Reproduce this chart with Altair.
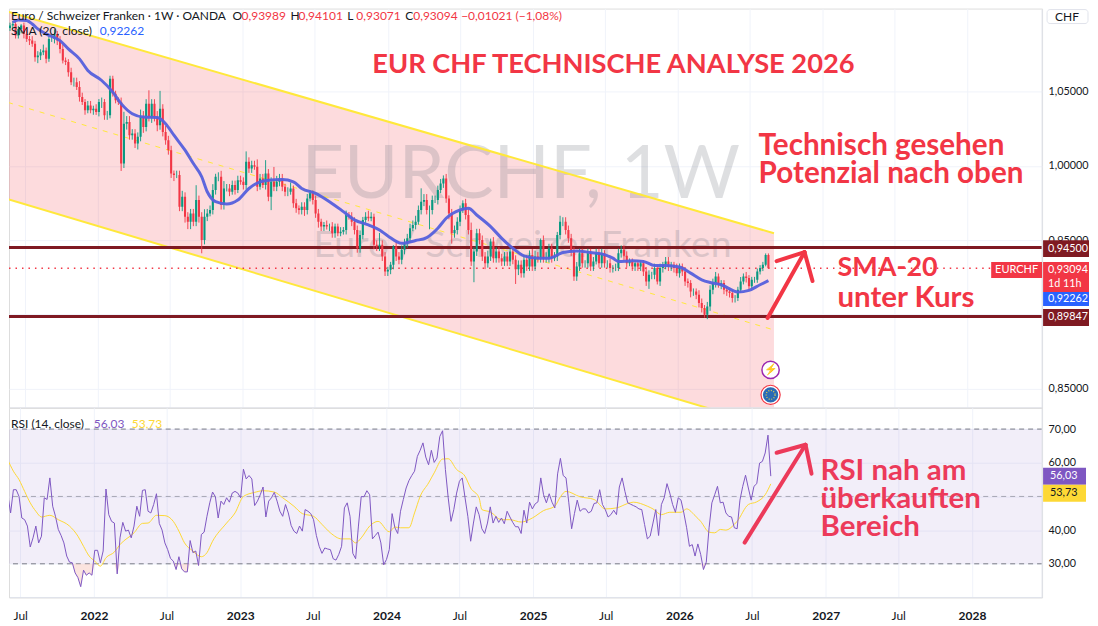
import altair as alt
import pandas as pd

# all weekly values, week 0 = 2021-05-24
first_open = 1.0930
close = [
    1.0946, 1.0957, 1.0879, 1.0924, 1.0946, 1.0890, 1.0856, 1.0845, 1.0823, 1.0733,
    1.0744, 1.0767, 1.0778, 1.0722, 1.0856, 1.0856, 1.0890, 1.0845, 1.0789, 1.0711,
    1.0700, 1.0632, 1.0565, 1.0565, 1.0532, 1.0464, 1.0431, 1.0375, 1.0408, 1.0375,
    1.0386, 1.0364, 1.0431, 1.0431, 1.0341, 1.0341, 1.0588, 1.0487, 1.0442, 1.0431,
    1.0016, 1.0285, 1.0296, 1.0207, 1.0218, 1.0151, 1.0196, 1.0330, 1.0263, 1.0420,
    1.0330, 1.0420, 1.0330, 1.0274, 1.0386, 1.0229, 1.0173, 1.0106, 0.9949, 0.9938,
    0.9938, 0.9725, 0.9792, 0.9658, 0.9624, 0.9680, 0.9624, 0.9770, 0.9658, 0.9501,
    0.9658, 0.9680, 0.9703, 0.9837, 0.9927, 0.9927, 0.9736, 0.9848, 0.9848, 0.9826,
    0.9871, 0.9837, 0.9904, 0.9893, 0.9871, 1.0028, 0.9983, 1.0005, 0.9994, 0.9860,
    0.9916, 0.9871, 0.9949, 0.9792, 0.9893, 0.9860, 0.9893, 0.9916, 0.9860, 0.9826,
    0.9826, 0.9848, 0.9748, 0.9714, 0.9703, 0.9725, 0.9703, 0.9781, 0.9815, 0.9770,
    0.9680, 0.9624, 0.9591, 0.9602, 0.9591, 0.9591, 0.9546, 0.9591, 0.9546, 0.9557,
    0.9568, 0.9669, 0.9658, 0.9624, 0.9568, 0.9445, 0.9535, 0.9636, 0.9658, 0.9647,
    0.9658, 0.9468, 0.9456, 0.9468, 0.9389, 0.9288, 0.9300, 0.9333, 0.9456, 0.9389,
    0.9367, 0.9434, 0.9479, 0.9512, 0.9580, 0.9602, 0.9624, 0.9703, 0.9759, 0.9770,
    0.9703, 0.9703, 0.9770, 0.9770, 0.9837, 0.9882, 0.9916, 0.9781, 0.9680, 0.9546,
    0.9568, 0.9624, 0.9703, 0.9748, 0.9669, 0.9568, 0.9356, 0.9423, 0.9546, 0.9501,
    0.9389, 0.9344, 0.9389, 0.9490, 0.9378, 0.9423, 0.9378, 0.9356, 0.9389, 0.9356,
    0.9423, 0.9367, 0.9304, 0.9333, 0.9277, 0.9367, 0.9322, 0.9400, 0.9322, 0.9389,
    0.9378, 0.9501, 0.9378, 0.9378, 0.9445, 0.9378, 0.9389, 0.9535, 0.9624, 0.9624,
    0.9568, 0.9512, 0.9423, 0.9255, 0.9322, 0.9412, 0.9344, 0.9344, 0.9412, 0.9322,
    0.9356, 0.9412, 0.9344, 0.9412, 0.9344, 0.9344, 0.9311, 0.9311, 0.9311, 0.9412,
    0.9434, 0.9394, 0.9344, 0.9356, 0.9322, 0.9344, 0.9322, 0.9344, 0.9288, 0.9221,
    0.9266, 0.9266, 0.9311, 0.9221, 0.9311, 0.9333, 0.9356, 0.9322, 0.9333, 0.9311,
    0.9277, 0.9322, 0.9288, 0.9221, 0.9210, 0.9154, 0.9154, 0.9132, 0.9076, 0.9042,
    0.8997, 0.9053, 0.9165, 0.9210, 0.9255, 0.9199, 0.9210, 0.9165, 0.9154, 0.9143,
    0.9109, 0.9109, 0.9165, 0.9221, 0.9255, 0.9244, 0.9188, 0.9232, 0.9232, 0.9288,
    0.9311, 0.9333, 0.9400, 0.93094,
]
# wick lengths above / below the body, in 0.001
wick_up = [
    2,2,3,2,1,2,3,2,3,2, 3,2,4,2,3,3,3,2,3,3, 2,2,3,3,3,4,3,2,3,3, 2,3,2,3,2,3,2,2,2,2,
    3,8,4,4,3,3,3,5,4,3, 9,3,3,4,12,3,4,3,3,2, 3,3,4,3,3,3,3,10,3,3, 5,3,3,4,2,3,4,5,3,3,
    3,3,3,3,3,7,3,3,3,5, 3,3,9,3,3,10,4,3,3,2, 3,4,2,3,2,3,3,3,2,2, 3,3,2,2,3,2,3,2,2,3,
    2,3,2,3,3,3,3,2,3,4, 3,2,3,8,3,3,2,2,1,3, 3,3,3,3,3,3,4,3,9,4, 4,3,3,3,3,3,2,3,2,3,
    3,3,3,2,3,4,5,3,3,3, 3,3,4,2,3,3,3,3,3,3, 2,3,3,3,3,3,3,3,4,4, 3,1,3,4,3,3,3,2,4,3,
    3,3,3,3,3,3,3,2,3,3, 3,3,3,3,2,2,3,2,3,3, 3,3,3,2,2,2,2,2,2,3, 3,2,3,2,3,2,3,3,2,2,
    3,2,2,3,2,2,2,2,3,3, 2,3,3,3,3,2,2,2,2,2, 2,2,2,3,2,3,2,2,2,2, 2,2,1,1,
]
wick_dn = [
    2,2,2,2,3,3,2,3,2,3, 4,3,2,3,2,2,3,3,3,2, 2,3,2,3,2,3,2,3,2,2, 3,2,3,4,3,3,2,2,2,2,
    5,3,4,3,3,3,4,3,4,3, 3,4,3,4,3,3,3,3,3,4, 2,3,3,4,5,5,3,3,4,9, 3,3,2,3,3,3,3,3,2,3,
    2,3,2,2,3,3,3,3,2,3, 2,2,3,3,9,3,3,3,3,3, 3,2,3,3,3,3,4,3,2,3, 3,4,3,3,2,3,3,3,2,2,
    2,3,2,3,3,3,3,3,2,2, 2,3,3,3,3,3,3,3,3,3, 3,3,3,3,3,2,3,2,3,3, 3,13,3,2,3,2,3,3,4,7,
    3,3,3,2,3,3,3,14,3,3, 3,4,3,3,3,3,3,3,3,3, 3,3,10,4,3,3,3,3,3,3, 3,3,3,3,3,3,2,3,3,3,
    3,3,3,3,3,3,3,3,3,3, 3,2,3,3,3,3,3,3,2,2, 3,3,3,2,3,3,3,3,3,3, 5,3,3,2,3,3,3,3,3,3,
    2,3,3,3,3,4,3,3,3,3, 2,3,3,3,3,2,3,3,3,3, 3,3,2,2,2,3,2,2,2,2, 2,2,1,0,
]
sma_week = [1, 3, 6, 8, 10, 13, 18, 21, 25, 28, 33, 37, 40, 44, 48, 53, 56, 59, 63, 66, 69, 71,
            74, 78, 82, 86, 90, 93, 98, 102, 105, 110, 115, 120, 124, 129, 133, 136, 141, 146,
            150, 154, 157, 162, 165, 168, 173, 177, 181, 185, 190, 194, 199, 204, 209, 213,
            217, 219, 224, 228, 232, 236, 241, 245, 249, 252, 256, 262, 266, 270, 273]
sma_value = [1.0968, 1.0984, 1.0980, 1.0957, 1.0924, 1.0890, 1.0845, 1.0789, 1.0722, 1.0644,
             1.0576, 1.0498, 1.0420, 1.0352, 1.0330, 1.0326, 1.0285, 1.0207, 1.0106, 1.0016,
             0.9927, 0.9826, 0.9759, 0.9743, 0.9770, 0.9848, 0.9893, 0.9904, 0.9909, 0.9893,
             0.9848, 0.9815, 0.9759, 0.9692, 0.9636, 0.9602, 0.9568, 0.9528, 0.9478, 0.9497,
             0.9517, 0.9580, 0.9647, 0.9703, 0.9714, 0.9669, 0.9591, 0.9512, 0.9445, 0.9394,
             0.9378, 0.9378, 0.9416, 0.9427, 0.9416, 0.9407, 0.9378, 0.9356, 0.9360, 0.9356,
             0.9329, 0.9329, 0.9318, 0.9277, 0.9232, 0.9214, 0.9199, 0.9150, 0.9161, 0.9199,
             0.92262]
rsi = [
    54.5, 50.5, 45.1, 52.0, 52.0, 50.0, 43.6, 43.1, 41.2, 35.0, 37.7, 41.2, 36.2, 38.2, 49.6, 49.1,
    55.5, 47.1, 44.1, 40.2, 38.4, 36.2, 32.3, 30.5, 30.3, 27.3, 25.9, 23.2, 28.1, 26.6, 27.3, 26.6,
    34.0, 34.0, 30.3, 33.8, 52.2, 44.6, 42.6, 42.1, 27.0, 37.7, 42.3, 39.7, 40.0, 37.7, 41.2, 47.1,
    44.1, 51.8, 52.0, 45.6, 45.1, 47.6, 50.8, 42.0, 40.0, 36.2, 34.2, 31.6, 30.8, 28.3, 32.1, 28.5,
    27.6, 27.6, 36.9, 33.3, 33.8, 29.5, 38.7, 39.4, 44.1, 48.1, 51.3, 49.9, 43.6, 48.6, 47.6, 49.6,
    48.3, 51.0, 51.5, 51.0, 49.6, 58.1, 55.2, 56.2, 55.2, 47.3, 48.6, 50.5, 52.8, 43.9, 48.6, 49.6,
    51.2, 48.6, 45.6, 44.1, 47.6, 45.1, 41.4, 39.7, 39.0, 41.2, 39.7, 46.1, 45.6, 44.9, 43.1, 38.4,
    35.2, 33.1, 34.7, 34.4, 34.2, 31.5, 31.1, 32.8, 35.2, 46.6, 48.1, 44.1, 33.1, 31.5, 41.2, 50.0,
    49.9, 51.7, 50.5, 37.4, 38.4, 39.4, 36.2, 29.7, 31.3, 34.2, 44.9, 40.7, 39.0, 45.6, 49.1, 52.5,
    54.7, 56.2, 57.5, 61.9, 63.7, 65.9, 61.7, 59.4, 63.7, 60.1, 61.4, 67.8, 69.5, 58.0, 49.6, 42.6,
    46.1, 51.0, 54.5, 55.5, 49.6, 44.1, 36.7, 42.1, 46.9, 44.6, 40.4, 39.0, 42.1, 46.9, 42.1, 44.1,
    42.3, 43.6, 41.9, 45.6, 43.9, 42.3, 41.0, 41.0, 39.0, 45.9, 42.1, 48.3, 46.3, 47.8, 48.4, 55.5,
    50.5, 48.1, 50.8, 48.3, 46.6, 56.7, 61.3, 56.2, 55.5, 48.1, 40.4, 44.9, 48.9, 45.6, 46.3, 46.3,
    45.1, 45.6, 47.9, 48.1, 52.0, 47.6, 46.1, 43.9, 44.6, 45.9, 44.6, 52.8, 55.5, 51.5, 48.1, 47.7,
    47.3, 46.9, 46.3, 46.1, 41.7, 37.4, 38.2, 42.1, 46.1, 38.4, 47.6, 49.6, 53.8, 51.0, 47.6, 45.3,
    49.6, 48.9, 45.1, 40.7, 35.2, 35.7, 32.3, 35.9, 32.8, 28.3, 30.5, 40.7, 48.1, 50.5, 53.0, 48.1,
    48.3, 45.1, 44.1, 43.9, 40.7, 40.4, 48.9, 53.0, 56.3, 52.5, 48.9, 53.0, 53.8, 59.9, 60.4, 62.9,
    68.2, 56.03,
]
rsi_ma_week = [0, 1, 3, 5, 7, 9, 11, 13, 16, 19, 23, 26, 28, 30, 32, 34, 36, 39, 41, 46, 49, 51, 54,
               57, 60, 62, 64, 67, 70, 72, 74, 79, 82, 85, 89, 92, 96, 99, 103, 106, 110, 113, 116,
               120, 123, 125, 127, 130, 133, 137, 139, 141, 144, 146, 148, 151, 153, 156, 158, 161,
               164, 166, 169, 170, 173, 177, 180, 184, 188, 192, 196, 198, 200, 205, 210, 214, 218,
               222, 224, 229, 231, 234, 237, 241, 243, 246, 248, 251, 253, 255, 257, 260, 261, 265,
               268, 271, 273]
rsi_ma_value = [62.9, 60.9, 57.5, 55.0, 51.5, 48.1, 45.6, 43.9, 44.4, 43.1, 41.2, 38.2, 35.2, 32.3,
                30.8, 29.3, 31.8, 33.5, 35.7, 39.2, 42.0, 42.1, 44.4, 44.3, 42.6, 39.7, 36.2, 33.8,
                32.1, 33.3, 36.7, 42.1, 45.1, 50.0, 51.2, 51.7, 51.3, 49.6, 47.1, 44.9, 44.1, 41.7,
                39.2, 37.4, 37.4, 36.2, 37.7, 41.2, 42.6, 39.5, 40.9, 40.7, 40.7, 45.1, 50.0, 54.0,
                57.0, 61.1, 61.2, 58.0, 56.0, 52.5, 49.6, 46.1, 45.4, 43.1, 43.1, 42.4, 43.6, 45.8,
                47.1, 49.9, 51.5, 49.9, 49.1, 46.3, 46.6, 47.9, 48.3, 47.1, 46.3, 44.6, 45.3, 45.3,
                46.3, 44.3, 42.6, 39.4, 39.2, 40.2, 40.0, 41.7, 42.6, 47.6, 48.4, 50.5, 53.73]

# trend channel drawn on the chart
channel_dates = ['2021-05-19', '2026-08-31']
channel_upper = [1.1040, 0.9546]
channel_mid = [1.0428, 0.8894]
channel_lower = [0.9775, 0.8234]

level_lines = [0.945, 0.89847]
last_price = 0.93094
price_ticks = [0.85, 0.90, 0.95, 1.00, 1.05]
rsi_ticks = [30, 40, 50, 60, 70]
tick_years = [2022, 2023, 2024, 2025, 2026, 2027, 2028]
tick_july = [2021, 2022, 2023, 2024, 2025, 2026, 2027]

RED = '#f23645'
FONT = 'Lato'
W = 1035
H_PRICE = 400
H_RSI = 190
RIGHT = 1082
TAG = 10.8
ROW1 = 2.5

start = pd.Timestamp('2021-05-24')
def week_date(i):
    return (start + pd.Timedelta(days=7 * i)).strftime('%Y-%m-%d')

# CANDLES ---------------------------------------------
df = pd.DataFrame({'week': range(len(close)), 'close': close, 'up': wick_up, 'dn': wick_dn, 'rsi': rsi})
df['date'] = df['week'].map(week_date)
df['open'] = [first_open] + close[:-1]
df['high'] = df[['open', 'close']].max(axis=1) + df['up'] / 1000
df['low'] = df[['open', 'close']].min(axis=1) - df['dn'] / 1000
df['dir'] = ['up' if c >= o else 'down' for c, o in zip(df['close'], df['open'])]

df_sma = pd.DataFrame({'date': [week_date(i) for i in sma_week], 'sma': sma_value})
df_ma = pd.DataFrame({'date': [week_date(i) for i in rsi_ma_week], 'ma': rsi_ma_value})
df_channel = pd.DataFrame({'date': channel_dates, 'upper': channel_upper, 'mid': channel_mid, 'lower': channel_lower})

x_values = [alt.DateTime(year=y, month=1, date=1, utc=True) for y in tick_years] + \
           [alt.DateTime(year=y, month=7, date=1, utc=True) for y in tick_july]
x_scale = alt.Scale(type='utc', domain=[alt.DateTime(year=2021, month=6, date=3, utc=True),
                                        alt.DateTime(year=2028, month=6, date=24, utc=True)])
GRID = '#f0f3fa'

x_top = alt.X('date:T', scale=x_scale, title=None,
              axis=alt.Axis(values=x_values, labels=False, ticks=False, domain=False, grid=True, gridColor=GRID))
x_bottom = alt.X('date:T', scale=x_scale, title=None,
                 axis=alt.Axis(values=x_values, grid=True, gridColor=GRID, ticks=False, domain=False,
                               labelFont=FONT, labelFontSize=12, labelColor='#131722', labelPadding=13,
                               labelExpr="utcmonth(datum.value)==0 ? utcFormat(datum.value,'%Y') : 'Jul'",
                               labelFontWeight={'condition': {'test': 'utcmonth(datum.value)==0', 'value': 'bold'},
                                                'value': 'normal'}))
price_axis = alt.Axis(orient='right', values=price_ticks, grid=True, gridColor=GRID, ticks=False, domain=False,
                      labelFont=FONT, labelFontSize=TAG, labelColor='#131722', labelPadding=6,
                      labelExpr="datum.value==0.9 ? '' : replace(format(datum.value,'.5f'),'.',',')")
rsi_y_axis = alt.Axis(orient='right', values=rsi_ticks, grid=True, gridColor=GRID, ticks=False, domain=False,
                      labelFont=FONT, labelFontSize=TAG, labelColor='#131722', labelPadding=6,
                      labelExpr="datum.value==50 ? '' : replace(format(datum.value,'.2f'),'.',',')")


def y_p(field):
    return alt.Y(field, scale=alt.Scale(domain=[0.8369, 1.1061], nice=False, zero=False), title=None, axis=price_axis)


def y_r(field):
    return alt.Y(field, scale=alt.Scale(domain=[20.0, 76.31], nice=False, zero=False), title=None, axis=rsi_y_axis)


def px_text(text, x, y, size=12, color='#131722', weight='normal', align='left', baseline='middle', opacity=1):
    return alt.Chart(pd.DataFrame({'a': [0]})).mark_text(
        text=text, font=FONT, fontSize=size, color=color, fontWeight=weight,
        align=align, baseline=baseline, opacity=opacity
    ).encode(x=alt.value(x), y=alt.value(y))


def px_box(x, x2, y, y2, color):
    return alt.Chart(pd.DataFrame({'a': [0]})).mark_rect(color=color).encode(
        x=alt.value(x), x2=alt.value(x2), y=alt.value(y), y2=alt.value(y2))


def px_stroke(x, y, x2, y2, color=RED, width=4, cap='round'):
    return alt.Chart(pd.DataFrame({'a': [0]})).mark_rule(color=color, strokeWidth=width, strokeCap=cap).encode(
        x=alt.value(x), x2=alt.value(x2), y=alt.value(y), y2=alt.value(y2))


# PRICE PANEL -----------------------------------------
channel_fill = alt.Chart(df_channel).mark_area(color=RED, opacity=0.18, clip=True).encode(
    x=x_top, y=y_p('upper:Q'), y2='lower:Q')

watermark = px_text('EURCHF, 1W', 293, 168, size=74, color='#787b86', opacity=0.24) + \
    px_text('Euro / Schweizer Franken', 305, 238, size=37.5, color='#787b86', opacity=0.24)

channel_lines = alt.Chart(df_channel).mark_line(color='#ffe83b', strokeWidth=2, clip=True)
upper_line = channel_lines.encode(x=x_top, y=y_p('upper:Q'))
lower_line = channel_lines.encode(x=x_top, y=y_p('lower:Q'))
mid_line = alt.Chart(df_channel).mark_line(color='#ffe83b', strokeWidth=1, strokeDash=[5, 6], clip=True).encode(
    x=x_top, y=y_p('mid:Q'))

levels = alt.Chart(pd.DataFrame({'level': level_lines})).mark_rule(color='#7f1a22', strokeWidth=3, clip=True).encode(
    y=y_p('level:Q'))
last_line = alt.Chart(pd.DataFrame({'level': [last_price]})).mark_rule(
    color=RED, strokeWidth=1.5, strokeDash=[1.5, 5], clip=True).encode(y=y_p('level:Q'))

candle_color = alt.Color('dir:N', scale=alt.Scale(domain=['up', 'down'], range=['#089981', RED]), legend=None)
wicks = alt.Chart(df).mark_rule(strokeWidth=0.9, clip=True).encode(
    x=x_top, y=y_p('low:Q'), y2='high:Q', color=candle_color)
bodies = alt.Chart(df).mark_bar(width=2.1, clip=True).encode(
    x=x_top, y=y_p('open:Q'), y2='close:Q', color=candle_color)
sma = alt.Chart(df_sma).mark_line(color='#5560dc', strokeWidth=3, interpolate='monotone', opacity=0.95, clip=True).encode(
    x=x_top, y=y_p('sma:Q'))

BIG = 'bold'
price_notes = [
    px_text('EUR CHF TECHNISCHE ANALYSE 2026', 364, 57, size=27.3, color=RED, weight=BIG),
    px_text('Technisch gesehen', 751, 138, size=29.7, color=RED, weight=BIG),
    px_text('Potenzial nach oben', 751, 166, size=29.7, color=RED, weight=BIG),
    px_text('SMA-20', 830, 260, size=27, color=RED, weight=BIG),
    px_text('unter Kurs', 830, 290, size=29.5, color=RED, weight=BIG),
    px_stroke(760, 310, 797, 244), px_stroke(769, 253, 797, 244), px_stroke(797, 244, 805, 273),
    # top legend
    px_text('Euro / Schweizer Franken · 1W · OANDA', 2, ROW1, baseline='top'),
    px_text('O', 224, ROW1, baseline='top'), px_text('0,93989', 233, ROW1, color=RED, baseline='top'),
    px_text('H', 282, ROW1, baseline='top'), px_text('0,94101', 290, ROW1, color=RED, baseline='top'),
    px_text('L', 339, ROW1, baseline='top'), px_text('0,93071', 348, ROW1, color=RED, baseline='top'),
    px_text('C', 397, ROW1, baseline='top'), px_text('0,93094', 405, ROW1, color=RED, baseline='top'),
    px_text('−0,01021 (−1,08%)', 453, ROW1, color=RED, baseline='top'),
    px_text('SMA (20, close)', 2, 22), px_text('0,92262', 91, 22, color='#2962ff'),
    # right scale tags
    px_box(1036, RIGHT, 232, 249, '#7f1a22'), px_text('0,94500', 1041, 240.5, size=TAG, color='white'),
    px_box(1036, RIGHT, 254, 284, RED), px_text('0,93094', 1041, 262, size=TAG, color='white'),
    px_text('1d 11h', 1041, 276, size=TAG, color='white'),
    px_box(1036, RIGHT, 284, 298, '#2962ff'), px_text('0,92262', 1041, 291, size=TAG, color='white'),
    px_box(1036, RIGHT, 301, 318, '#7f1a22'), px_text('0,89847', 1041, 309.5, size=TAG, color='white'),
    px_box(984, 1035, 254, 270, RED), px_text('EURCHF', 1009.5, 262, size=11, color='white', align='center'),
]

# chart symbols near the last bar
dot = pd.DataFrame({'a': [0]})
icons = [
    alt.Chart(dot).mark_point(filled=True, fill='white', stroke='#9c27b0', strokeWidth=1.5, size=300, opacity=1).encode(
        x=alt.value(763), y=alt.value(362)),
    px_text('⚡', 763, 362, size=11, color='#9c27b0', align='center'),
    alt.Chart(dot).mark_point(filled=True, fill='white', stroke=RED, strokeWidth=1.2, size=370, opacity=1).encode(
        x=alt.value(763), y=alt.value(387)),
    alt.Chart(dot).mark_point(filled=True, fill='#2a6bb5', stroke='#2a6bb5', size=180, opacity=1).encode(
        x=alt.value(763), y=alt.value(387)),
    alt.Chart(dot).mark_point(filled=False, stroke='#e8cf4c', strokeWidth=1.2, strokeDash=[1, 1.6], size=80, opacity=1).encode(
        x=alt.value(763), y=alt.value(387)),
]

chf_box = alt.Chart(dot).mark_rect(fill='white', stroke='#e0e3eb', cornerRadius=3).encode(
    x=alt.value(1040), x2=alt.value(1081), y=alt.value(1), y2=alt.value(15))
price_frame = [
    px_stroke(1, H_PRICE, W, H_PRICE, color='#e0e3eb', width=1, cap='butt'),
    px_stroke(W, 1, W, H_PRICE, color='#e0e3eb', width=1, cap='butt'),
]

price_panel = alt.layer(
    channel_fill, watermark, upper_line, lower_line, mid_line, levels, last_line,
    wicks, bodies, sma, *price_frame, *icons, *price_notes,
    chf_box, px_text('CHF', 1060, 8, color='#131722', align='center')
).properties(width=W, height=H_PRICE)

# RSI PANEL -------------------------------------------
band = alt.Chart(pd.DataFrame({'top': [70], 'bottom': [30]})).mark_rect(color='#7e57c2', opacity=0.1).encode(
    y=y_r('top:Q'), y2='bottom:Q', x=alt.value(0), x2=alt.value(W))

dashes = alt.Chart(pd.DataFrame({'v': [70, 30]})).mark_rule(
    color='#787b86', strokeDash=[5, 4], strokeWidth=1, clip=True).encode(y=y_r('v:Q'))
mid_dash = alt.Chart(pd.DataFrame({'v': [50]})).mark_rule(
    color='#787b86', strokeDash=[5, 4], strokeWidth=1, opacity=0.6, clip=True).encode(y=y_r('v:Q'))

oversold = alt.Chart(df).transform_calculate(
    floor_rsi='min(datum.rsi, 30)', limit='30'
).mark_area(color='#f7c9c0', opacity=0.5, clip=True).encode(
    x=x_bottom, y=y_r('floor_rsi:Q'), y2='limit:Q')

rsi_line = alt.Chart(df).mark_line(color='#7e57c2', strokeWidth=1, clip=True).encode(
    x=x_bottom, y=y_r('rsi:Q'))
ma_line = alt.Chart(df_ma).mark_line(color='#fdd835', strokeWidth=1, interpolate='monotone', clip=True).encode(
    x=x_bottom, y=y_r('ma:Q'))

PINK = '#ec3a5a'
rsi_notes = [
    px_text('RSI (14, close)', 2, 16), px_text('56,03', 85, 16, color='#7e57c2'), px_text('53,73', 123, 16, color='#fdd835'),
    px_stroke(737, 135, 798, 37, color=PINK), px_stroke(769, 45, 798, 37, color=PINK), px_stroke(798, 37, 804, 66, color=PINK),
    px_text('RSI nah am', 813, 63, size=29.5, color=PINK, weight=BIG),
    px_text('überkauften', 813, 91, size=29.5, color=PINK, weight=BIG),
    px_text('Bereich', 813, 119, size=29.5, color=PINK, weight=BIG),
    px_box(1036, 1079, 60, 77, '#7e57c2'), px_text('56,03', 1043, 68.5, size=TAG, color='white'),
    px_box(1036, 1079, 77, 94, '#fdd835'), px_text('53,73', 1043, 85.5, size=TAG),
    px_stroke(1, H_RSI, W, H_RSI, color='#e0e3eb', width=1, cap='butt'),
    px_stroke(W, 1, W, H_RSI, color='#e0e3eb', width=1, cap='butt'),
]

rsi_panel = alt.layer(
    band, mid_dash, dashes, oversold, ma_line, rsi_line, *rsi_notes
).properties(width=W, height=H_RSI)

chart = alt.vconcat(price_panel, rsi_panel, spacing=0, bounds='flush').resolve_scale(
    x='independent', y='independent', color='independent'
).properties(padding={'left': 0, 'top': -1, 'right': 0, 'bottom': 0}).configure_view(stroke=None).configure(font=FONT)

chart.save("out.html", embed_options={"renderer": "svg", "actions": False})
